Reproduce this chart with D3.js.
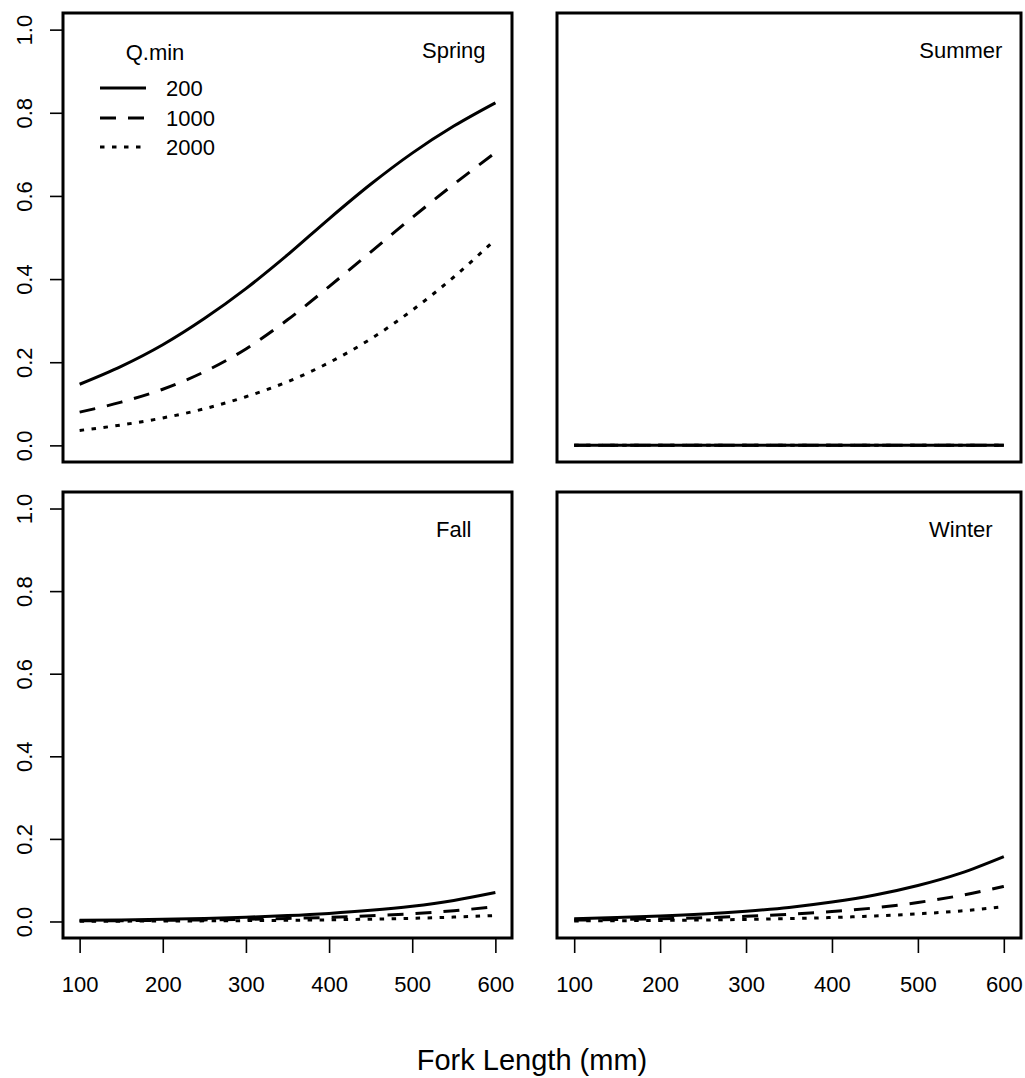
<!DOCTYPE html>
<html>
<head>
<meta charset="utf-8">
<script src="https://cdn.jsdelivr.net/npm/d3@7"></script>
<style>
  html, body { margin: 0; padding: 0; background: #fff; }
  svg { display: block; font-family: "Liberation Sans", Arial, sans-serif; }
</style>
</head>
<body>
<svg id="chart" width="1025" height="1078"></svg>
<script>
// ---- data ----
const forkLength = [100, 150, 200, 250, 300, 350, 400, 450, 500, 550, 600];
const qminLevels = ["200", "1000", "2000"];
const seasons = ["Spring", "Summer", "Fall", "Winter"];
const xTicks = [100, 200, 300, 400, 500, 600];
const yTicks = [0.0, 0.2, 0.4, 0.6, 0.8, 1.0];

const springQ200  = [0.147, 0.190, 0.242, 0.305, 0.377, 0.458, 0.545, 0.628, 0.703, 0.768, 0.824];
const springQ1000 = [0.080, 0.104, 0.135, 0.177, 0.232, 0.302, 0.382, 0.465, 0.548, 0.628, 0.704];
const springQ2000 = [0.036, 0.049, 0.066, 0.088, 0.117, 0.153, 0.199, 0.256, 0.325, 0.405, 0.495];

const summerQ200  = [0, 0, 0, 0, 0, 0, 0, 0, 0, 0, 0];
const summerQ1000 = [0, 0, 0, 0, 0, 0, 0, 0, 0, 0, 0];
const summerQ2000 = [0, 0, 0, 0, 0, 0, 0, 0, 0, 0, 0];

const fallQ200  = [0.0028, 0.0038, 0.0053, 0.0074, 0.0103, 0.0142, 0.0196, 0.0270, 0.0370, 0.0510, 0.0700];
const fallQ1000 = [0.0015, 0.0020, 0.0028, 0.0038, 0.0053, 0.0073, 0.0100, 0.0140, 0.0190, 0.0260, 0.0360];
const fallQ2000 = [0.0006, 0.0008, 0.0011, 0.0015, 0.0021, 0.0029, 0.0040, 0.0056, 0.0077, 0.0106, 0.0145];

const winterQ200  = [0.0068, 0.0094, 0.0130, 0.0180, 0.0250, 0.0340, 0.0470, 0.0640, 0.0870, 0.1170, 0.1570];
const winterQ1000 = [0.0034, 0.0047, 0.0066, 0.0091, 0.0126, 0.0175, 0.0240, 0.0330, 0.0460, 0.0630, 0.0850];
const winterQ2000 = [0.0014, 0.0019, 0.0026, 0.0036, 0.0050, 0.0069, 0.0096, 0.0133, 0.0184, 0.0255, 0.0360];

const seriesBySeason = {
  Spring: [springQ200, springQ1000, springQ2000],
  Summer: [summerQ200, summerQ1000, summerQ2000],
  Fall:   [fallQ200, fallQ1000, fallQ2000],
  Winter: [winterQ200, winterQ1000, winterQ2000]
};

// ---- layout ----
const panels = [
  { season: "Spring", x0: 63,  x1: 512,  y0: 13,  y1: 462, yAxis: true,  xAxis: false, legend: true },
  { season: "Summer", x0: 557, x1: 1021, y0: 13,  y1: 462, yAxis: false, xAxis: false, legend: false },
  { season: "Fall",   x0: 63,  x1: 512,  y0: 492, y1: 938, yAxis: true,  xAxis: true,  legend: false },
  { season: "Winter", x0: 557, x1: 1021, y0: 492, y1: 938, yAxis: false, xAxis: true,  legend: false }
];
const dashes = [null, "16,12", "4.5,7.5"];
const fontSize = 22;

const svg = d3.select("#chart");

panels.forEach(p => {
  const x = d3.scaleLinear().domain([80, 620]).range([p.x0, p.x1]);
  const y = d3.scaleLinear().domain([-0.04, 1.04]).range([p.y1, p.y0]);
  const g = svg.append("g");

  const line = d3.line()
    .x((d, i) => x(forkLength[i]))
    .y(d => y(d))
    .curve(d3.curveMonotoneX);

  const series = seriesBySeason[p.season];
  [2, 1, 0].forEach(k => {
    g.append("path")
      .datum(series[k])
      .attr("d", line)
      .attr("fill", "none")
      .attr("stroke", "#000")
      .attr("stroke-width", 3)
      .attr("stroke-dasharray", dashes[k])
      .attr("stroke-linecap", "butt");
  });

  g.append("rect")
    .attr("x", p.x0).attr("y", p.y0)
    .attr("width", p.x1 - p.x0).attr("height", p.y1 - p.y0)
    .attr("fill", "none").attr("stroke", "#000").attr("stroke-width", 3);

  g.append("text")
    .attr("x", x(550)).attr("y", y(0.95))
    .attr("text-anchor", "middle")
    .attr("dominant-baseline", "central")
    .attr("font-size", fontSize)
    .text(p.season);

  if (p.yAxis) {
    const ax = g.append("g")
      .attr("transform", `translate(${p.x0},0)`)
      .call(d3.axisLeft(y).tickValues(yTicks).tickSize(13).tickPadding(0).tickFormat(d3.format(".1f")));
    ax.select(".domain").remove();
    ax.selectAll(".tick line").attr("stroke", "#000").attr("stroke-width", 1.6);
    ax.selectAll(".tick text")
      .attr("font-size", fontSize)
      .attr("font-family", "Liberation Sans, Arial, sans-serif")
      .attr("fill", "#000")
      .attr("x", 0).attr("y", 0).attr("dy", null)
      .attr("text-anchor", "middle")
      .attr("transform", "translate(-31,0) rotate(-90)");
  }

  if (p.xAxis) {
    const ax = g.append("g")
      .attr("transform", `translate(0,${p.y1})`)
      .call(d3.axisBottom(x).tickValues(xTicks).tickSize(15).tickPadding(0).tickFormat(d3.format("d")));
    ax.select(".domain").remove();
    ax.selectAll(".tick line").attr("stroke", "#000").attr("stroke-width", 1.6);
    ax.selectAll(".tick text")
      .attr("font-size", fontSize)
      .attr("font-family", "Liberation Sans, Arial, sans-serif")
      .attr("fill", "#000")
      .attr("dy", null)
      .attr("y", 54);
  }

  if (p.legend) {
    const lg = g.append("g");
    lg.append("text")
      .attr("x", 155).attr("y", 52)
      .attr("text-anchor", "middle")
      .attr("dominant-baseline", "central")
      .attr("font-size", fontSize)
      .text("Q.min");
    const ly = [88, 118, 147];
    qminLevels.forEach((q, k) => {
      lg.append("line")
        .attr("x1", 100).attr("x2", 146)
        .attr("y1", ly[k]).attr("y2", ly[k])
        .attr("stroke", "#000").attr("stroke-width", 3)
        .attr("stroke-dasharray", dashes[k]);
      lg.append("text")
        .attr("x", 166).attr("y", ly[k])
        .attr("dominant-baseline", "central")
        .attr("font-size", fontSize)
        .text(q);
    });
  }
});

svg.append("text")
  .attr("x", 532).attr("y", 1070)
  .attr("text-anchor", "middle")
  .attr("font-size", 29)
  .text("Fork Length (mm)");
</script>
</body>
</html>
